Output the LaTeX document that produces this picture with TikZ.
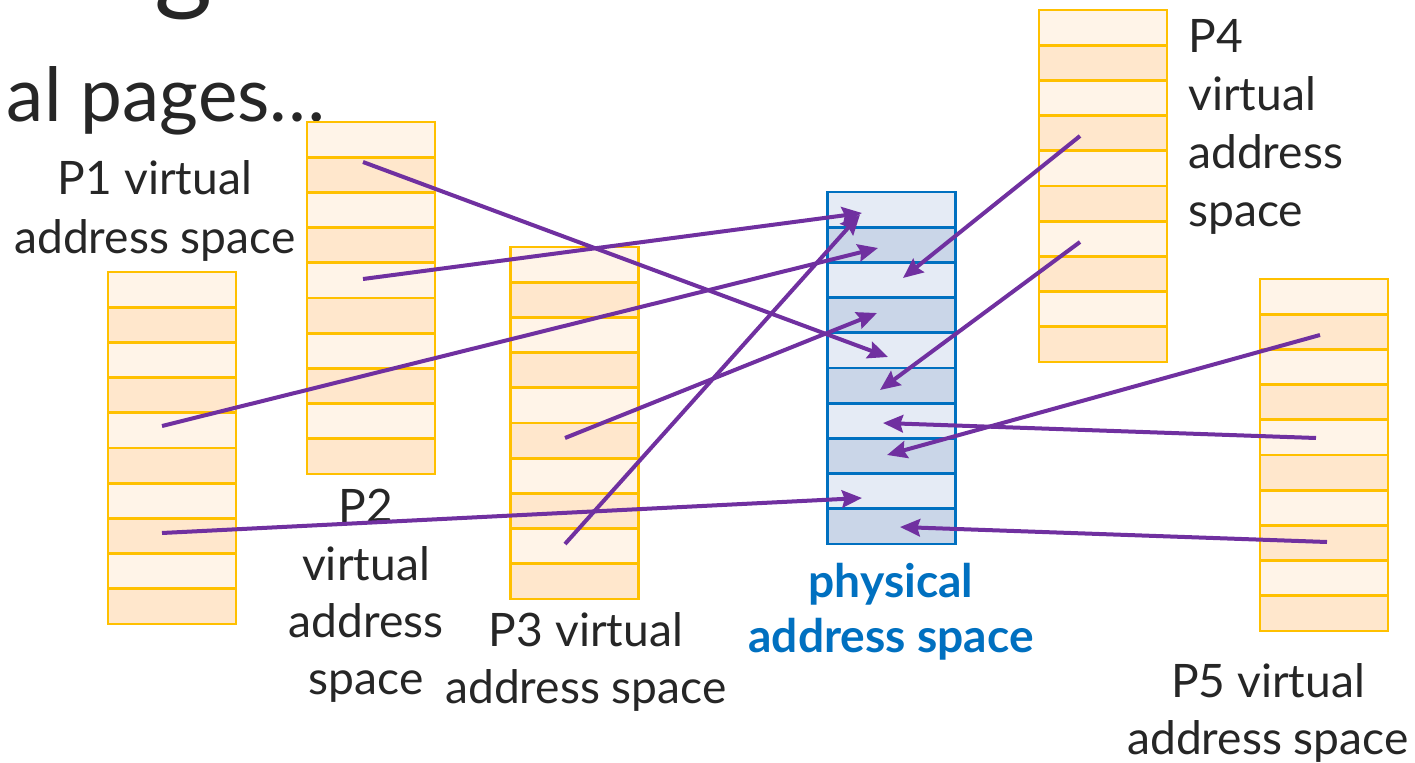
\documentclass[tikz,border=0pt]{standalone}
\usepackage{fontspec}
\setmainfont{Lato}
\usetikzlibrary{arrows.meta}

\definecolor{pageline}{HTML}{FFC000}
\definecolor{pagelight}{HTML}{FFF4E8}
\definecolor{pagedark}{HTML}{FFE7CC}
\definecolor{physline}{HTML}{0070C0}
\definecolor{physlight}{HTML}{E5EBF5}
\definecolor{physdark}{HTML}{CAD6E8}
\definecolor{mapcol}{HTML}{7030A0}
\definecolor{ink}{HTML}{262626}

% a column of ten pages: #1 name, #2 centre x, #3 top y, #4 colour prefix
\newcommand\drawcolumn[4]{%
  \foreach \i in {1,...,10}{%
    \ifodd\i \def\rowfill{#4light}\else\def\rowfill{#4dark}\fi
    \node[rowbox, draw=#4line, fill=\rowfill] (#1r\i) at (#2,{#3+35.2*(\i-0.5)}) {};
  }%
}

\begin{document}
\begin{tikzpicture}[x=0.75pt,y=-0.75pt,
  rowbox/.style={rectangle, minimum width=96pt, minimum height=26.4pt, inner sep=0pt, line width=2pt},
  lbltext/.style={anchor=base, inner sep=0pt, text=ink, font=\fontsize{34.6}{42}\selectfont},
  physlbl/.style={lbltext, text=physline, font=\fontsize{34.6}{42}\selectfont\bfseries},
  maplink/.style={draw=mapcol, line width=3pt, -{Stealth[length=15pt,width=13pt,inset=2pt]}}
]
\useasboundingbox (0,0) rectangle (1415,763);
\fill[white] (0,0) rectangle (1415,763);

% heading fragments, running off the top and left edges
\node[anchor=base, inner sep=0pt, text=ink, font=\fontsize{84}{84}\selectfont] (titleg) at (184,0) {g};
\node[anchor=base east, inner sep=0pt, text=ink, font=\fontsize{56}{60}\selectfont] (subtitle) at (326,122) {al pages…};

% captions
\node[lbltext] (p1t1) at (155,195) {P1 virtual};
\node[lbltext] (p1t2) at (155,253) {address space};
\node[lbltext] (p2t1) at (366,522) {P2};
\node[lbltext] (p2t2) at (366,580) {virtual};
\node[lbltext] (p2t3) at (366,637) {address};
\node[lbltext] (p2t4) at (366,694) {space};
\node[lbltext] (p3t1) at (586,646) {P3 virtual};
\node[lbltext] (p3t2) at (586,703) {address space};
\node[physlbl] (pht1) at (891,597) {physical};
\node[physlbl] (pht2) at (891,652) {address space};
\node[lbltext, anchor=base west] (p4t1) at (1188,53) {P4};
\node[lbltext, anchor=base west] (p4t2) at (1188,111) {virtual};
\node[lbltext, anchor=base west] (p4t3) at (1188,169) {address};
\node[lbltext, anchor=base west] (p4t4) at (1188,227) {space};
\node[lbltext] (p5t1) at (1268,697) {P5 virtual};
\node[lbltext] (p5t2) at (1268,754) {address space};

% page columns
\drawcolumn{pa}{172}{272}{page}
\drawcolumn{pb}{371}{122}{page}
\drawcolumn{pc}{574.5}{247}{page}
\drawcolumn{ph}{891.5}{192}{phys}
\drawcolumn{pd}{1103}{10}{page}
\drawcolumn{pe}{1324}{279}{page}

% virtual-to-physical mappings
\draw[maplink] ([shift={(-8,-12.8)}]pbr2.center) -- ([shift={(-3.5,6.6)}]phr5.center);
\draw[maplink] ([shift={(-8,-1.4)}]pbr5.center) -- ([shift={(-29.5,3.4)}]phr1.center);
\draw[maplink] ([shift={(-10,-4.4)}]par5.center) -- ([shift={(-13.5,3.2)}]phr2.center);
\draw[maplink] ([shift={(-9.5,-2.6)}]pcr6.center) -- ([shift={(-14.5,-2.2)}]phr4.center);
\draw[maplink] ([shift={(-10,-3)}]par8.center) -- ([shift={(-29.5,6.8)}]phr9.center);
\draw[maplink] ([shift={(-9.5,-2.2)}]pcr9.center) -- ([shift={(-31.5,5)}]phr1.center);
\draw[maplink] ([shift={(-23,2.8)}]pdr4.center) -- ([shift={(11.5,-2)}]phr3.center);
\draw[maplink] ([shift={(-23,3.2)}]pdr7.center) -- ([shift={(-11.5,4.4)}]phr6.center);
\draw[maplink] ([shift={(-8,0.6)}]per5.center) -- ([shift={(-8.5,2.2)}]phr7.center);
\draw[maplink] ([shift={(-4,3.2)}]per2.center) -- ([shift={(-4.5,-1)}]phr8.center);
\draw[maplink] ([shift={(3,-1)}]per8.center) -- ([shift={(8.5,0.6)}]phr10.center);
\end{tikzpicture}
\end{document}
